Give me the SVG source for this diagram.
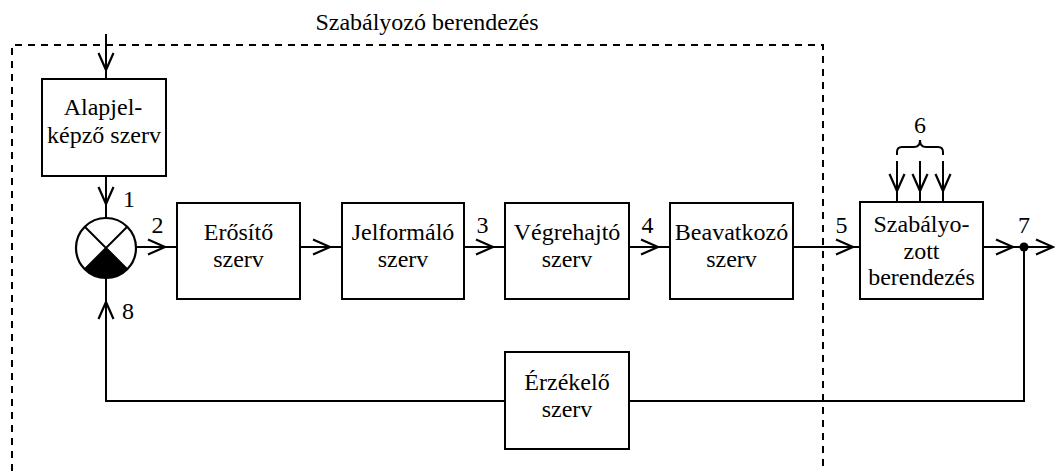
<svg xmlns="http://www.w3.org/2000/svg" width="1055" height="471" viewBox="0 0 1055 471">
<rect width="1055" height="471" fill="#fff"/>
<g id="boundary">
<path d="M12,471 V45 H823 V471" fill="none" stroke="#000" stroke-width="2" stroke-dasharray="7,6"/>
<text x="427" y="30" font-family="Liberation Serif" font-size="24" text-anchor="middle">Szabályozó berendezés</text>
</g>
<g id="connectors" fill="none" stroke="#000" stroke-width="2">
<path d="M106,34 V79"/>
<path d="M106,176 V218"/>
<path d="M136,247 H177"/>
<path d="M300,247 H342"/>
<path d="M464,247 H505"/>
<path d="M629,247 H670"/>
<path d="M793,247 H860"/>
<path d="M983,247 H1053"/>
<path d="M1024,247 V401 H629"/>
<path d="M505,401 H106 V278"/>
<path d="M897,161 V202 M920,161 V202 M943,161 V202"/>
<path d="M897,155 V152 Q897,147 902,147 H914 Q920,147 920,140 Q920,147 926,147 H938 Q943,147 943,152 V155"/>
<circle cx="1024" cy="247" r="4.5" fill="#000" stroke="none"/>
<g id="arrowheads" stroke-width="2.2">
<path d="M98.5,53 L106,70 L113.5,53"/>
<path d="M98.5,187 L106,204 L113.5,187"/>
<path d="M889.5,174 L897,191 L904.5,174"/>
<path d="M912.5,174 L920,191 L927.5,174"/>
<path d="M935.5,174 L943,191 L950.5,174"/>
<path d="M98.5,319 L106,302 L113.5,319"/>
<path d="M148,239.5 L165,247 L148,254.5"/>
<path d="M313,239.5 L330,247 L313,254.5"/>
<path d="M476,239.5 L493,247 L476,254.5"/>
<path d="M641,239.5 L658,247 L641,254.5"/>
<path d="M836,239.5 L853,247 L836,254.5"/>
<path d="M996,239.5 L1013,247 L996,254.5"/>
<path d="M1036,239.5 L1053,247 L1036,254.5"/>
</g>
</g>
<g id="labels" fill="#000">
<text x="129" y="207" font-family="Liberation Serif" font-size="24" text-anchor="middle">1</text>
<text x="157.5" y="233" font-family="Liberation Serif" font-size="24" text-anchor="middle">2</text>
<text x="482.5" y="233" font-family="Liberation Serif" font-size="24" text-anchor="middle">3</text>
<text x="647.5" y="233" font-family="Liberation Serif" font-size="24" text-anchor="middle">4</text>
<text x="841.5" y="233" font-family="Liberation Serif" font-size="24" text-anchor="middle">5</text>
<text x="920" y="133" font-family="Liberation Serif" font-size="24" text-anchor="middle">6</text>
<text x="1024" y="233" font-family="Liberation Serif" font-size="24" text-anchor="middle">7</text>
<text x="128" y="319" font-family="Liberation Serif" font-size="24" text-anchor="middle">8</text>
</g>
<g id="sum">
<circle cx="106" cy="248" r="30" fill="#fff" stroke="#000" stroke-width="2.2"/>
<path d="M106,248 L127.2,269.2 A30,30 0 0,1 84.8,269.2 Z" fill="#000"/>
<path d="M84.8,226.8 L127.2,269.2 M127.2,226.8 L84.8,269.2" fill="none" stroke="#000" stroke-width="2"/>
</g>
<g id="alapjel">
<rect x="42" y="79" width="124" height="97" fill="#fff" stroke="#000" stroke-width="2"/>
<text x="103" y="115" font-family="Liberation Serif" font-size="24" text-anchor="middle">Alapjel-</text>
<text x="104" y="143" font-family="Liberation Serif" font-size="24" text-anchor="middle">képző szerv</text>
</g>
<g id="erosito">
<rect x="177" y="203" width="123" height="96" fill="#fff" stroke="#000" stroke-width="2"/>
<text x="238.5" y="240" font-family="Liberation Serif" font-size="24" text-anchor="middle">Erősítő</text>
<text x="238.5" y="267" font-family="Liberation Serif" font-size="24" text-anchor="middle">szerv</text>
</g>
<g id="jelformalo">
<rect x="342" y="203" width="122" height="96" fill="#fff" stroke="#000" stroke-width="2"/>
<text x="403" y="240" font-family="Liberation Serif" font-size="24" text-anchor="middle">Jelformáló</text>
<text x="403" y="267" font-family="Liberation Serif" font-size="24" text-anchor="middle">szerv</text>
</g>
<g id="vegrehajto">
<rect x="505" y="203" width="124" height="96" fill="#fff" stroke="#000" stroke-width="2"/>
<text x="567" y="240" font-family="Liberation Serif" font-size="24" text-anchor="middle">Végrehajtó</text>
<text x="567" y="267" font-family="Liberation Serif" font-size="24" text-anchor="middle">szerv</text>
</g>
<g id="beavatkozo">
<rect x="670" y="203" width="123" height="96" fill="#fff" stroke="#000" stroke-width="2"/>
<text x="731.5" y="240" font-family="Liberation Serif" font-size="24" text-anchor="middle">Beavatkozó</text>
<text x="731.5" y="267" font-family="Liberation Serif" font-size="24" text-anchor="middle">szerv</text>
</g>
<g id="szabalyozott">
<rect x="860" y="202" width="123" height="97" fill="#fff" stroke="#000" stroke-width="2"/>
<text x="921.5" y="232" font-family="Liberation Serif" font-size="24" text-anchor="middle">Szabályo-</text>
<text x="921.5" y="259" font-family="Liberation Serif" font-size="24" text-anchor="middle">zott</text>
<text x="921.5" y="285" font-family="Liberation Serif" font-size="24" text-anchor="middle">berendezés</text>
</g>
<g id="erzekelo">
<rect x="505" y="352" width="124" height="97" fill="#fff" stroke="#000" stroke-width="2"/>
<text x="567" y="390" font-family="Liberation Serif" font-size="24" text-anchor="middle">Érzékelő</text>
<text x="567" y="417" font-family="Liberation Serif" font-size="24" text-anchor="middle">szerv</text>
</g>
</svg>
